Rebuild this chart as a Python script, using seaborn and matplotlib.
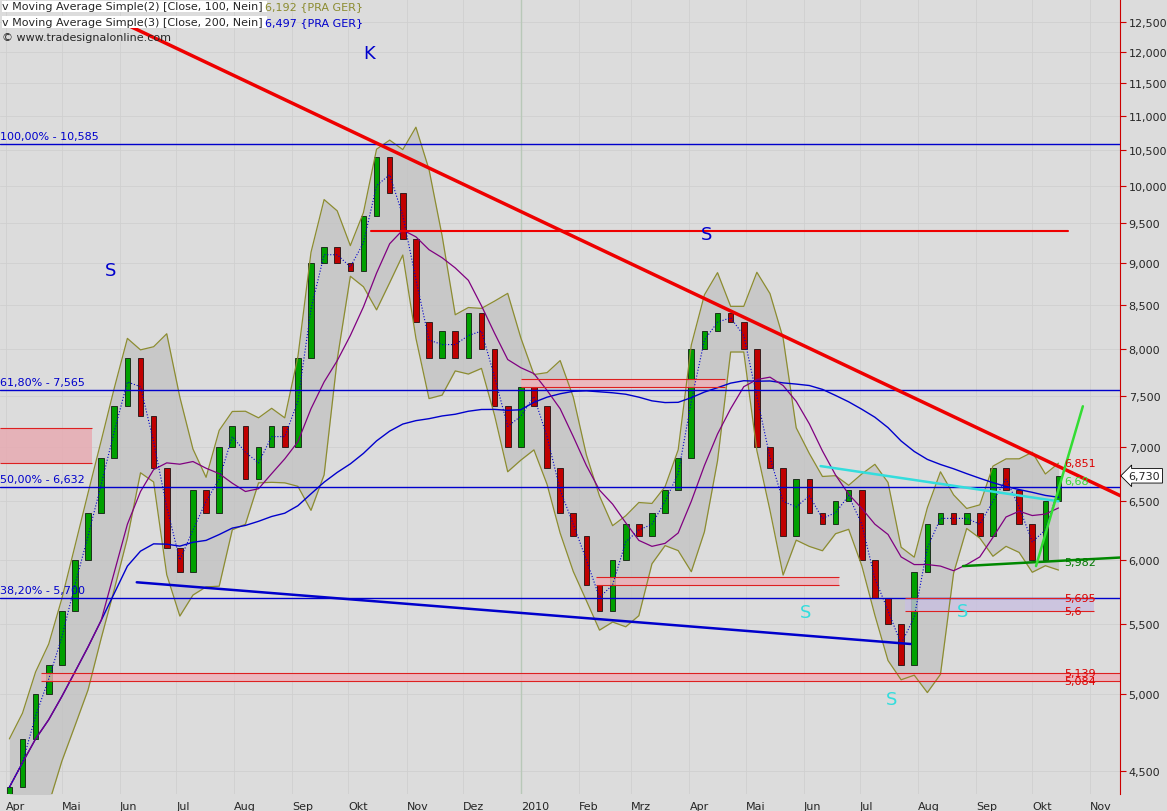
import numpy as np
import pandas as pd
import matplotlib
matplotlib.use("Agg")
import matplotlib.pyplot as plt
import matplotlib.dates as mdates
from matplotlib.ticker import FixedLocator, FuncFormatter, NullLocator
import seaborn as sns

# weekly closes (EUR)
closes = [4.4, 4.7, 5.0, 5.2,
          5.6, 6.0, 6.4, 6.9, 7.4,
          7.9, 7.3, 6.8, 6.1,
          5.9, 6.6, 6.4, 7.0, 7.2,
          6.7, 7.0, 7.2, 7.0,
          7.9, 9.0, 9.2, 9.0,
          8.9, 9.6, 10.4, 9.9, 9.3,
          8.3, 7.9, 8.2, 7.9,
          8.4, 8.0, 7.4, 7.0,
          7.6, 7.4, 6.8, 6.4, 6.2,
          5.8, 5.6, 6.0, 6.3,
          6.2, 6.4, 6.6, 6.9,
          8.0, 8.2, 8.4, 8.3, 8.0,
          7.0, 6.8, 6.2, 6.7,
          6.4, 6.3, 6.5, 6.6,
          6.0, 5.7, 5.5, 5.2, 5.9,
          6.3, 6.4, 6.3, 6.4,
          6.2, 6.8, 6.6, 6.3,
          6.0, 6.5, 6.73]
dates = pd.date_range("2009-04-03", periods=len(closes), freq="W-FRI")

fib_levels = [10.585, 7.565, 6.632, 5.7]
fib_labels = ["100,00% - 10,585", "61,80% - 7,565", "50,00% - 6,632", "38,20% - 5,700"]
month_names = ["Apr", "Mai", "Jun", "Jul", "Aug", "Sep", "Okt", "Nov", "Dez", "2010",
               "Feb", "Mrz", "Apr", "Mai", "Jun", "Jul", "Aug", "Sep", "Okt", "Nov"]
right_labels = [(6.851, "6,851", "#dd0000"), (6.68, "6,68", "#33dd33"), (5.982, "5,982", "#007700"),
                (5.695, "5,695", "#dd0000"), (5.6, "5,6", "#dd0000"),
                (5.139, "5,139", "#dd0000"), (5.084, "5,084", "#dd0000")]

df = pd.DataFrame({"date": dates, "close": closes})
df["open"] = df["close"].shift(1).fillna(df["close"].iloc[0] - 0.1)
df["ma_fast"] = df["close"].rolling(2, min_periods=1).mean()
df["ma_mid"] = df["close"].rolling(8, min_periods=1).mean()
df["ma_slow"] = df["close"].rolling(40, min_periods=1).mean()
df["bb_mid"] = df["close"].rolling(4, min_periods=1).mean()
sd = df["close"].rolling(4, min_periods=2).std().fillna(0.2)
df["bb_up"] = df["bb_mid"] + 1.5 * sd
df["bb_lo"] = df["bb_mid"] - 1.5 * sd

sns.set_style("white")
plt.rcParams["font.family"] = ["DejaVu Sans"]
fig = plt.figure(figsize=(11.67, 8.12), dpi=100)
fig.patch.set_facecolor("#dcdcdc")
ax = fig.add_axes([0, 0.021, 0.96, 0.979])
ax.set_facecolor("#dcdcdc")
ax.set_yscale("log")
ax.set_ylim(4.36, 12.9)
ax.set_xlim(pd.Timestamp("2009-03-29"), pd.Timestamp("2010-11-17"))

# bollinger band
ax.fill_between(df["date"], df["bb_lo"], df["bb_up"], color="#c0c0c0", alpha=0.7, lw=0)
sns.lineplot(data=df, x="date", y="bb_up", ax=ax, color="#8c8c30", lw=0.9)
sns.lineplot(data=df, x="date", y="bb_lo", ax=ax, color="#8c8c30", lw=0.9)
sns.lineplot(data=df, x="date", y="ma_slow", ax=ax, color="#0000cc", lw=1)
sns.lineplot(data=df, x="date", y="ma_mid", ax=ax, color="#800080", lw=0.9)
sns.lineplot(data=df, x="date", y="ma_fast", ax=ax, color="#0000cc", lw=0.8, ls=":")

# candles
up = df["close"] >= df["open"]
lo = np.minimum(df["open"], df["close"])
hi = np.maximum(df["open"], df["close"])
ax.bar(df["date"][up], (hi - lo)[up], bottom=lo[up], width=3, color="#00a000", edgecolor="black", lw=0.5)
ax.bar(df["date"][~up], (hi - lo)[~up], bottom=lo[~up], width=3, color="#c00000", edgecolor="black", lw=0.5)

# fibonacci levels
for lev, lab in zip(fib_levels, fib_labels):
    ax.axhline(lev, color="#0000cc", lw=1)
    ax.text(pd.Timestamp("2009-03-29"), lev * 1.004, lab, color="#0000cc", fontsize=8, va="bottom", ha="left")

# zones
zones = [("2009-03-29", "2009-05-17", 6.85, 7.18, "#e8a8b0"),
         ("2010-01-01", "2010-04-20", 7.6, 7.68, "#f0b0b8"),
         ("2010-02-10", "2010-06-20", 5.8, 5.86, "#f0b0b8"),
         ("2010-07-25", "2010-11-03", 5.6, 5.695, "#c8c0e0"),
         ("2009-04-20", "2010-11-17", 5.084, 5.139, "#f0b0b8")]
for x0, x1, y0, y1, c in zones:
    ax.fill_between([pd.Timestamp(x0), pd.Timestamp(x1)], y0, y1, color=c, alpha=0.8, lw=0)
    ax.hlines([y0, y1], pd.Timestamp(x0), pd.Timestamp(x1), color="#dd2020", lw=0.8)

# trend lines
ax.plot([pd.Timestamp("2009-06-05"), pd.Timestamp("2010-11-17")], [12.45, 6.55], color="#ee0000", lw=2.5)
ax.plot([pd.Timestamp("2009-10-13"), pd.Timestamp("2010-10-20")], [9.4, 9.4], color="#ee0000", lw=1.5)
ax.plot([pd.Timestamp("2009-06-10"), pd.Timestamp("2010-07-28")], [5.82, 5.35], color="#0000cc", lw=1.8)
ax.plot([pd.Timestamp("2010-06-10"), pd.Timestamp("2010-10-15")], [6.82, 6.5], color="#33dddd", lw=1.8)
ax.plot([pd.Timestamp("2010-08-25"), pd.Timestamp("2010-11-17")], [5.95, 6.02], color="#008800", lw=1.8)
ax.plot([pd.Timestamp("2010-10-03"), pd.Timestamp("2010-10-28")], [5.95, 7.4], color="#33dd33", lw=1.8)

# letters
ax.text(pd.Timestamp("2009-10-12"), 11.9, "K", color="#0000cc", fontsize=13, ha="center")
ax.text(pd.Timestamp("2009-05-27"), 8.85, "S", color="#0000cc", fontsize=13, ha="center")
ax.text(pd.Timestamp("2010-04-10"), 9.3, "S", color="#0000cc", fontsize=13, ha="center")
for d, v in [("2010-06-02", 5.55), ("2010-08-25", 5.56), ("2010-07-18", 4.93)]:
    ax.text(pd.Timestamp(d), v, "S", color="#33dddd", fontsize=13, ha="center")

for v, t, c in right_labels:
    ax.text(pd.Timestamp("2010-10-18"), v, t, color=c, fontsize=8, va="center")

# axes
ax.yaxis.tick_right()
ax.yaxis.set_major_locator(FixedLocator(np.arange(4.5, 12.51, 0.5)))
ax.yaxis.set_minor_locator(NullLocator())
ax.yaxis.set_major_formatter(FuncFormatter(lambda v, p: f"{v:,.3f}".replace(".", ",")))
ax.tick_params(axis="y", labelsize=8, pad=2, length=4, color="#cc0000")
ax.annotate("6,730", xy=(1.0, 6.73), xycoords=("axes fraction", "data"), xytext=(6, 0),
            textcoords="offset points", fontsize=8, va="center",
            bbox=dict(boxstyle="larrow,pad=0.2", fc="white", ec="black", lw=0.6))
months = pd.date_range("2009-04-01", "2010-11-01", freq="MS")
ax.set_xticks(months)
ax.set_xticklabels(month_names, ha="left", fontsize=8)
ax.tick_params(axis="x", pad=2, length=3)
for m in months:
    ax.axvline(m, color="#cfcfcf", lw=0.6, zorder=0)
for lev in np.arange(4.5, 12.51, 0.5):
    ax.axhline(lev, color="#cfcfcf", lw=0.6, zorder=0)
ax.axvline(pd.Timestamp("2010-01-01"), color="#b8c8b8", lw=1, zorder=0)
ax.set_xlabel("")
ax.set_ylabel("")
for s in ["top", "left", "bottom"]:
    ax.spines[s].set_visible(False)
ax.spines["right"].set_color("#cc0000")

fig.text(0.002, 0.997, "v Moving Average Simple(2) [Close, 100, Nein] ", fontsize=8, va="top",
         bbox=dict(fc="white", ec="none", pad=0.5))
fig.text(0.227, 0.997, "6,192 {PRA GER}", fontsize=8, va="top", color="#8c8c30")
fig.text(0.002, 0.978, "v Moving Average Simple(3) [Close, 200, Nein] ", fontsize=8, va="top",
         bbox=dict(fc="white", ec="none", pad=0.5))
fig.text(0.227, 0.978, "6,497 {PRA GER}", fontsize=8, va="top", color="#0000cc")
fig.text(0.002, 0.959, "© www.tradesignalonline.com", fontsize=8, va="top")

fig.savefig("out.png", dpi=100, facecolor=fig.get_facecolor())
